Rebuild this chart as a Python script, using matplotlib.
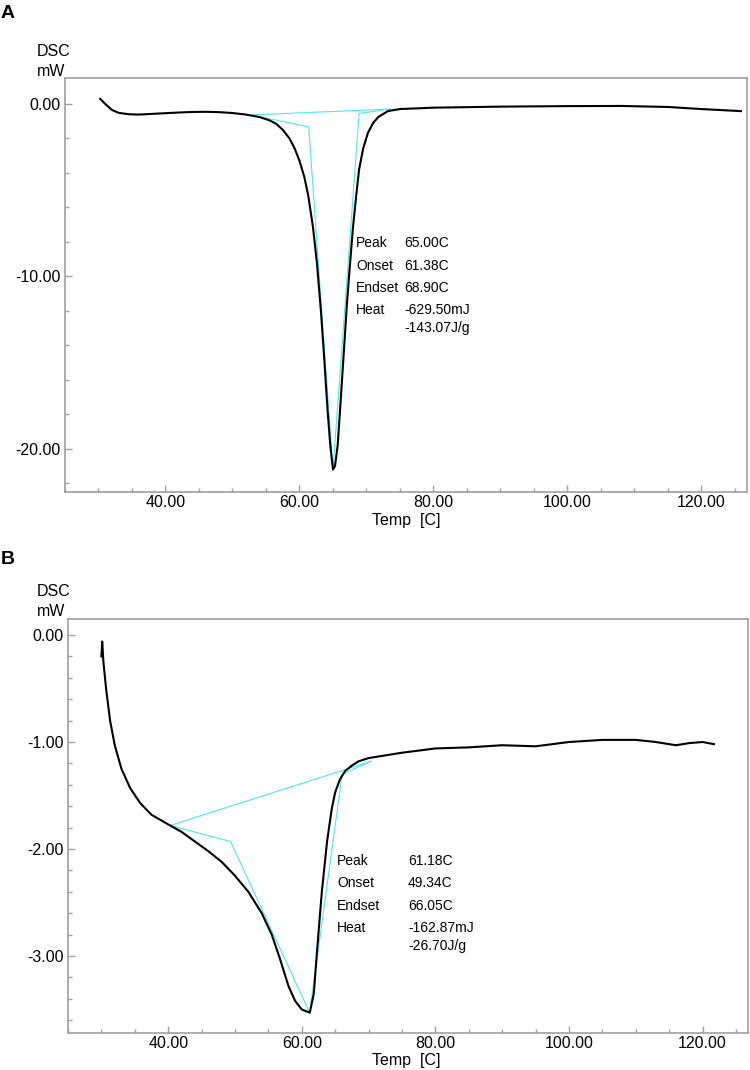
import matplotlib
matplotlib.use("Agg")
import matplotlib.pyplot as plt
from matplotlib.ticker import MultipleLocator, FormatStrFormatter

plt.rcParams['font.family'] = ['Liberation Sans', 'DejaVu Sans']

# panel A: DSC curve (temperature C, heat flow mW)
temp_a = [30.25, 31.0, 32.0, 33.0, 34.5, 36.0, 38.0, 40.0, 42.0, 44.0, 46.0, 48.0,
          50.0, 52.0, 54.0, 55.5, 56.5, 57.5, 58.5, 59.3, 60.0, 60.7, 61.3, 62.0,
          62.6, 63.2, 63.7, 64.2, 64.6, 65.0, 65.3, 65.7, 66.1, 66.6, 67.1, 67.6,
          68.0, 68.5, 68.9, 69.5, 70.2, 71.0, 71.8, 73.2, 75.0, 80.0, 90.0, 100.0,
          108.0, 115.0, 120.0, 125.9]
dsc_a = [0.29, 0.0, -0.35, -0.52, -0.6, -0.62, -0.58, -0.54, -0.5, -0.47, -0.46, -0.48,
         -0.53, -0.62, -0.76, -0.95, -1.15, -1.5, -2.0, -2.6, -3.3, -4.2, -5.3, -7.1,
         -9.2, -12.0, -14.8, -17.8, -19.8, -21.2, -21.0, -19.8, -17.5, -14.5, -11.5, -9.0,
         -7.1, -5.2, -3.8, -2.6, -1.7, -1.1, -0.75, -0.42, -0.3, -0.22, -0.16, -0.13,
         -0.12, -0.18, -0.3, -0.42]
# analysis construction lines (baseline + tangents)
base_a_x = [52.8, 73.6]
base_a_y = [-0.64, -0.3]
left_a_x = [52.8, 61.38, 65.0]
left_a_y = [-0.64, -1.33, -21.2]
right_a_x = [73.6, 68.9, 65.0]
right_a_y = [-0.3, -0.55, -21.2]
labels_a = ["Peak", "Onset", "Endset", "Heat", ""]
values_a = ["65.00C", "61.38C", "68.90C", "-629.50mJ", "-143.07J/g"]

# panel B
temp_b = [30.0, 30.12, 30.3, 30.7, 31.3, 32.0, 33.0, 34.3, 35.8, 37.5, 40.0, 42.0,
          44.0, 46.0, 48.0, 50.0, 52.0, 54.0, 55.5, 56.7, 58.0, 59.0, 60.0, 61.2,
          61.8, 62.3, 63.0, 63.8, 64.5, 65.0, 65.7, 66.5, 67.5, 68.5, 70.0, 75.0,
          80.0, 85.0, 90.0, 95.0, 100.0, 105.0, 110.0, 113.0, 116.0, 118.0, 120.0, 121.7]
dsc_b = [-0.2, -0.06, -0.25, -0.5, -0.8, -1.03, -1.25, -1.43, -1.57, -1.68, -1.77, -1.84,
         -1.93, -2.02, -2.12, -2.25, -2.4, -2.6, -2.8, -3.02, -3.28, -3.42, -3.5, -3.53,
         -3.35, -2.94, -2.4, -1.92, -1.62, -1.47, -1.35, -1.27, -1.22, -1.18, -1.15, -1.1,
         -1.06, -1.05, -1.03, -1.04, -1.0, -0.98, -0.98, -1.0, -1.03, -1.01, -1.0, -1.02]
base_b_x = [40.3, 70.4]
base_b_y = [-1.78, -1.18]
left_b_x = [40.3, 49.34, 61.18]
left_b_y = [-1.78, -1.93, -3.53]
right_b_x = [70.4, 66.05, 61.18]
right_b_y = [-1.18, -1.3, -3.53]
labels_b = ["Peak", "Onset", "Endset", "Heat", ""]
values_b = ["61.18C", "49.34C", "66.05C", "-162.87mJ", "-26.70J/g"]

W, H = 750, 1070
fig = plt.figure(figsize=(W / 100, H / 100), dpi=100)
grey = '#a0a0a0'
cyan = '#4de8e8'


def px(x, y):
    return x / W, 1 - y / H


def style(ax, ymaj, ymin_, ylim):
    ax.set_xlim(25, 126.8)
    ax.set_ylim(*ylim)
    for s in ax.spines.values():
        s.set_color(grey)
        s.set_linewidth(1.2)
    ax.xaxis.set_major_locator(MultipleLocator(20))
    ax.xaxis.set_minor_locator(MultipleLocator(5))
    ax.yaxis.set_major_locator(MultipleLocator(ymaj))
    ax.yaxis.set_minor_locator(MultipleLocator(ymin_))
    ax.xaxis.set_major_formatter(FormatStrFormatter('%.2f'))
    ax.yaxis.set_major_formatter(FormatStrFormatter('%.2f'))
    ax.tick_params(which='both', direction='in', color=grey, labelsize=11.5, width=1)
    ax.tick_params(which='major', length=5, pad=3)
    ax.tick_params(which='minor', length=3)
    ax.tick_params(axis='x', pad=2)


# --- A ---
axA = fig.add_axes([65 / W, 1 - 492 / H, 682 / W, 414 / H])
style(axA, 10, 2, (-22.5, 1.5))
axA.plot(base_a_x, base_a_y, color=cyan, lw=0.8)
axA.plot(left_a_x, left_a_y, color=cyan, lw=0.8)
axA.plot(right_a_x, right_a_y, color=cyan, lw=0.8)
axA.plot(temp_a, dsc_a, color='black', lw=1.5)

# --- B ---
axB = fig.add_axes([68 / W, 1 - 1033 / H, 680 / W, 414 / H])
style(axB, 1, 0.2, (-3.72, 0.15))
axB.plot(base_b_x, base_b_y, color=cyan, lw=0.8)
axB.plot(left_b_x, left_b_y, color=cyan, lw=0.8)
axB.plot(right_b_x, right_b_y, color=cyan, lw=0.8)
axB.plot(temp_b, dsc_b, color='black', lw=1.5)

# texts
fig.text(*px(1, 14), "A", fontsize=14, fontweight='bold', va='center')
fig.text(*px(1, 560), "B", fontsize=14, fontweight='bold', va='center')
for ytop, ax_bot in [(52, 520), (592, 1061)]:
    fig.text(*px(37, ytop), "DSC", fontsize=11.5, va='center')
    fig.text(*px(37, ytop + 19), "mW", fontsize=11.5, va='center')
    fig.text(*px(372, ax_bot), "Temp  [C]", fontsize=11.5, va='center', ha='left')

rows_a = [243, 266, 288, 310, 328]
for lab, val, ry in zip(labels_a, values_a, rows_a):
    fig.text(*px(356, ry), lab, fontsize=10, va='center')
    fig.text(*px(404, ry), val, fontsize=10, va='center')
rows_b = [861, 883, 906, 928, 946]
for lab, val, ry in zip(labels_b, values_b, rows_b):
    fig.text(*px(337, ry), lab, fontsize=10, va='center')
    fig.text(*px(408, ry), val, fontsize=10, va='center')

fig.savefig("out.png", dpi=100)
